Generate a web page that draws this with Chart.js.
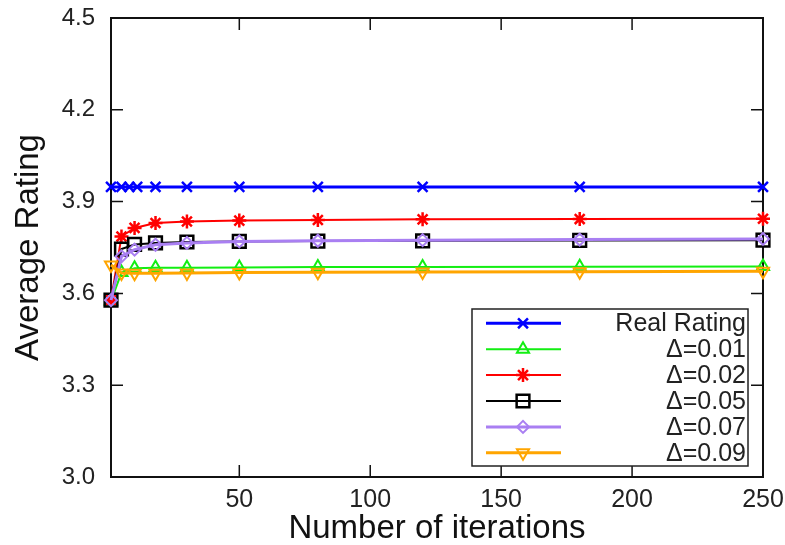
<!DOCTYPE html>
<html><head><meta charset="utf-8">
<script src="https://cdn.jsdelivr.net/npm/chart.js@4.4.1/dist/chart.umd.min.js"></script>
<style>html,body{margin:0;padding:0;background:#fff;} canvas{display:block;}</style>
</head><body>
<canvas id="c" width="785" height="545"></canvas>
<script>
// ---- data ----
const iterations = [1, 5, 10, 18, 30, 50, 80, 120, 180, 250];
const realRatingIterations = [1, 5, 8, 11, 18, 30, 50, 80, 120, 180, 250];
const realRating = [3.948, 3.948, 3.948, 3.948, 3.948, 3.948, 3.948, 3.948, 3.948, 3.948, 3.948];
const delta001 = [3.575, 3.668, 3.682, 3.684, 3.684, 3.685, 3.686, 3.686, 3.687, 3.688];
const delta002 = [3.578, 3.786, 3.814, 3.830, 3.835, 3.838, 3.840, 3.842, 3.843, 3.844];
const delta005 = [3.578, 3.745, 3.760, 3.765, 3.768, 3.770, 3.771, 3.772, 3.773, 3.774];
const delta007 = [3.578, 3.721, 3.743, 3.759, 3.765, 3.770, 3.772, 3.774, 3.776, 3.778];
const delta009 = [3.693, 3.667, 3.666, 3.666, 3.667, 3.668, 3.669, 3.670, 3.671, 3.672];
const seriesLabels = ['Real Rating', 'Δ=0.01', 'Δ=0.02', 'Δ=0.05', 'Δ=0.07', 'Δ=0.09'];
const xTickValues = [50, 100, 150, 200, 250];
const yTickValues = [3.0, 3.3, 3.6, 3.9, 4.2, 4.5];

function pts(xs, ys) { return xs.map((x, i) => ({ x: x, y: ys[i] })); }

const FONT = "'Liberation Sans', Arial, sans-serif";
Chart.defaults.font.family = FONT;
Chart.defaults.color = '#222';

function ds(label, xs, ys, color, width, style, radius, rotation, pbw, order) {
  return {
    label: label, data: pts(xs, ys), borderColor: color, borderWidth: width,
    pointStyle: style, pointRadius: radius, pointRotation: rotation || 0,
    pointBorderColor: color, pointBackgroundColor: 'rgba(0,0,0,0)', pointBorderWidth: pbw,
    pointHoverRadius: radius, tension: 0, fill: false, clip: false, order: order
  };
}

const datasets = [
  ds(seriesLabels[0], realRatingIterations, realRating, '#0000ff', 3, 'crossRot', 7, 0, 2.5, 6),
  ds(seriesLabels[1], iterations, delta001, '#12ee12', 2, 'triangle', 7, 0, 2, 5),
  ds(seriesLabels[2], iterations, delta002, '#ff0000', 2, 'star', 7, 0, 2.5, 4),
  ds(seriesLabels[3], iterations, delta005, '#000000', 2, 'rect', 9, 0, 2.5, 3),
  ds(seriesLabels[4], iterations, delta007, '#a97ff2', 3, 'rectRot', 6, 0, 2, 2),
  ds(seriesLabels[5], iterations, delta009, '#ffa500', 3, 'triangle', 7, 180, 2, 1)
];

const framePlugin = {
  id: 'frame',
  beforeDatasetsDraw(chart) {
    const ctx = chart.ctx, a = chart.chartArea;
    const xs = chart.scales.x, ys = chart.scales.y;
    const tl = 12;
    ctx.save();
    ctx.strokeStyle = '#111';
    ctx.lineWidth = 1.5;
    ctx.beginPath();
    xTickValues.forEach(v => {
      const px = xs.getPixelForValue(v);
      ctx.moveTo(px, a.bottom); ctx.lineTo(px, a.bottom - tl);
      ctx.moveTo(px, a.top); ctx.lineTo(px, a.top + tl);
    });
    yTickValues.forEach(v => {
      const py = ys.getPixelForValue(v);
      ctx.moveTo(a.left, py); ctx.lineTo(a.left + tl, py);
      ctx.moveTo(a.right, py); ctx.lineTo(a.right - tl, py);
    });
    ctx.stroke();
    ctx.lineWidth = 2;
    ctx.strokeRect(a.left, a.top, a.right - a.left, a.bottom - a.top);
    ctx.restore();
  },
  afterDraw(chart) {
    const ctx = chart.ctx, a = chart.chartArea;
    const boxR = a.right - 15, boxB = a.bottom - 11;
    const boxW = 276, boxH = 157;
    const boxL = boxR - boxW, boxT = boxB - boxH;
    ctx.save();
    ctx.fillStyle = '#fff';
    ctx.fillRect(boxL, boxT, boxW, boxH);
    ctx.strokeStyle = '#222';
    ctx.lineWidth = 1.5;
    ctx.strokeRect(boxL, boxT, boxW, boxH);
    const rowH = 25.9;
    chart.data.datasets.forEach((d, i) => {
      const y = boxT + 14.3 + i * rowH;
      ctx.strokeStyle = d.borderColor;
      ctx.lineWidth = d.borderWidth;
      ctx.beginPath();
      ctx.moveTo(boxL + 14, y); ctx.lineTo(boxL + 89, y);
      ctx.stroke();
      ctx.fillStyle = 'rgba(0,0,0,0)';
      ctx.lineWidth = d.pointBorderWidth;
      Chart.helpers.drawPoint(ctx, {
        pointStyle: d.pointStyle, radius: d.pointRadius, rotation: d.pointRotation,
        borderWidth: d.pointBorderWidth
      }, boxL + 51, y);
      ctx.fillStyle = '#222';
      ctx.font = '25px ' + FONT;
      ctx.textAlign = 'right';
      ctx.textBaseline = 'middle';
      ctx.fillText(d.label, boxR - 2, y + 1);
    });
    ctx.restore();
  }
};

new Chart(document.getElementById('c'), {
  type: 'line',
  data: { datasets: datasets },
  plugins: [framePlugin],
  options: {
    responsive: false,
    animation: false,
    devicePixelRatio: 1,
    layout: { padding: { left: 0, right: 22, top: 18, bottom: 0 } },
    plugins: { legend: { display: false }, tooltip: { enabled: false } },
    scales: {
      x: {
        type: 'linear', min: 1, max: 250,
        afterBuildTicks(s) { s.ticks = xTickValues.map(v => ({ value: v })); },
        afterFit(s) { s.height = 68; s.paddingLeft = 0; s.paddingRight = 0; },
        grid: { display: false, drawTicks: false, tickLength: 0 },
        border: { display: false },
        ticks: { font: { size: 25 }, color: '#222', padding: 8, maxRotation: 0, autoSkip: false,
                 callback: v => String(v) },
        title: { display: true, text: 'Number of iterations', color: '#111',
                 font: { size: 33, lineHeight: 1.0 }, padding: { top: 0, bottom: 0 } }
      },
      y: {
        type: 'linear', min: 3.0, max: 4.5,
        afterBuildTicks(s) { s.ticks = yTickValues.map(v => ({ value: v })); },
        afterFit(s) { s.width = 111; s.paddingTop = 0; s.paddingBottom = 0; },
        grid: { display: false, drawTicks: false, tickLength: 0 },
        border: { display: false },
        ticks: { font: { size: 24 }, color: '#222', padding: 16, autoSkip: false,
                 callback: v => Number(v).toFixed(1) },
        title: { display: true, text: 'Average Rating', color: '#111',
                 font: { size: 33, lineHeight: 1.2 }, padding: { top: 9, bottom: 0 } }
      }
    }
  }
});
</script>
</body></html>
